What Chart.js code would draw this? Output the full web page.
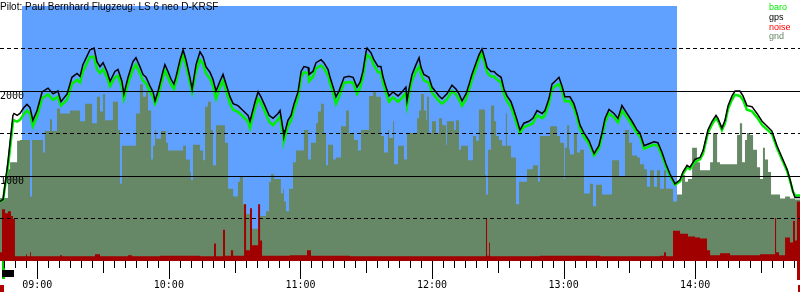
<!DOCTYPE html>
<html>
<head>
<meta charset="utf-8">
<script src="https://cdn.jsdelivr.net/npm/chart.js@4/dist/chart.umd.min.js"></script>
<style>
html,body{margin:0;padding:0;background:#fff;}
canvas{display:block;}
</style>
</head>
<body>
<canvas id="c" width="800" height="300"></canvas>
<script>
// ---- data (time in minutes after midnight, altitude in metres) ----
const titleText = 'Pilot: Paul Bernhard Flugzeug: LS 6 neo D-KRSF';
const seriesNames = ['baro', 'gps', 'noise', 'gnd'];
const axisRange = [523.0, 887.8];
const taskWindow = [533.0, 831.7];
const solidLevels = [1000, 2000];
const dashedLevels = [500, 1500, 2500];
const takeoffTime = 523.9;
const towRelease = 529.4;
const engineLeft = [523.0, 524.8];
const engineRight = [886.4, 887.8];

const trackTime = [
523.0,524.4,526.6,528.9,529.4,530.8,532.1,533.9,535.3,536.7,
538.0,539.9,542.2,544.9,547.2,549.4,550.8,553.6,555.8,558.1,
559.5,560.8,564.0,565.9,567.2,568.6,570.0,571.8,573.2,575.4,
576.8,578.6,579.5,581.4,583.6,585.0,586.8,588.2,589.6,591.4,
592.8,593.7,595.1,597.3,598.2,599.6,601.0,602.3,603.3,605.1,
606.5,607.8,609.6,610.6,612.4,614.2,615.6,616.9,618.8,620.1,
621.5,623.3,624.7,626.1,627.9,629.3,631.5,633.8,636.1,637.0,
639.3,640.7,642.0,643.8,645.7,647.5,649.8,650.7,652.1,652.5,
654.3,655.7,657.1,658.9,660.3,661.6,663.5,663.9,665.7,667.1,
669.4,670.7,672.6,673.5,674.9,676.2,677.6,679.9,682.1,684.0,
685.8,687.2,688.5,689.9,690.4,692.2,693.5,695.4,696.7,697.7,
699.0,700.4,702.2,704.5,706.3,708.1,708.6,709.5,710.9,712.7,
714.1,715.0,716.3,718.6,720.0,721.8,723.2,724.6,726.8,729.1,
730.9,732.3,733.7,735.5,736.9,738.2,740.1,741.4,742.8,744.2,
745.1,746.9,748.3,749.6,751.5,752.8,754.2,756.0,757.4,758.8,
760.1,761.9,764.2,766.0,767.9,770.2,771.5,773.3,774.7,776.1,
777.9,779.3,780.6,782.9,784.7,786.1,787.5,789.3,791.6,793.9,
796.1,797.5,798.9,800.7,803.0,804.8,806.6,808.9,811.2,813.5,
814.8,816.7,818.9,821.2,823.0,824.9,826.7,828.5,830.8,833.1,
834.4,836.3,837.6,839.9,842.2,843.6,845.8,847.7,849.5,850.4,
852.2,853.6,855.0,856.8,858.2,860.4,861.8,863.6,865.9,868.2,
870.5,872.8,875.0,877.3,879.6,881.9,883.2,884.6,885.5,887.8];

const gps = [
701,724,1161,1713,1736,1713,1736,1805,1842,1805,
1655,1770,1989,2034,1966,2000,1874,1966,2161,2207,
2172,2310,2483,2506,2345,2287,2333,2230,2115,2230,
2253,2115,1966,2161,2345,2391,2287,2195,2161,2057,
1989,1885,2000,2230,2310,2230,2138,2080,2172,2368,
2483,2368,2161,2023,2310,2460,2402,2287,2218,2138,
2000,2115,2195,2080,1931,1851,1828,1770,1713,1644,
1874,1989,1931,1828,1713,1678,1736,1770,1540,1471,
1655,1713,1851,1989,2230,2287,2276,2195,2230,2333,
2368,2333,2253,2161,2046,1931,2000,2161,2172,2161,
2046,2103,2230,2460,2506,2448,2368,2287,2287,2161,
2046,1942,1989,1942,1989,2046,1885,2023,2195,2310,
2391,2276,2195,2161,2046,1989,1942,1908,1966,2069,
2023,1966,1885,1966,2080,2195,2333,2425,2494,2368,
2276,2230,2230,2195,2161,2023,1942,1874,1770,1655,
1540,1621,1644,1678,1770,1736,1770,1908,2080,2115,
2161,2057,1931,1931,1851,1736,1598,1506,1414,1264,
1356,1506,1678,1782,1736,1678,1828,1736,1644,1540,
1506,1356,1379,1402,1391,1276,1138,1023,908,954,
1046,1126,1103,1195,1218,1299,1540,1644,1713,1678,
1563,1655,1828,1942,2000,2000,1942,1828,1816,1736,
1644,1586,1529,1356,1218,1080,966,816,747,747];

const baro = [
701,718,1100,1630,1655,1640,1660,1730,1770,1735,
1586,1700,1915,1960,1895,1930,1828,1895,2085,2130,
2100,2230,2400,2402,2260,2210,2255,2160,2057,2160,
2180,2050,1908,2090,2253,2310,2210,2120,2090,1990,
1930,1851,1940,2160,2240,2160,2075,2023,2110,2300,
2425,2310,2100,1989,2230,2368,2320,2210,2140,2060,
1908,2040,2120,2000,1851,1780,1755,1700,1640,1563,
1800,1910,1860,1760,1640,1598,1665,1700,1480,1414,
1590,1650,1785,1920,2160,2220,2210,2115,2165,2265,
2300,2265,2185,2095,1980,1851,1930,2095,2105,2095,
1966,2035,2160,2390,2425,2385,2300,2220,2220,2095,
1980,1874,1925,1874,1920,1980,1828,1955,2120,2230,
2287,2200,2125,2095,1980,1925,1880,1851,1900,2000,
1960,1900,1828,1900,2015,2130,2270,2368,2448,2310,
2215,2170,2170,2135,2100,1965,1880,1815,1710,1600,
1506,1575,1598,1621,1715,1680,1715,1850,2020,2057,
2080,2000,1880,1880,1800,1690,1550,1460,1380,1241,
1320,1460,1630,1735,1690,1630,1770,1690,1600,1500,
1470,1320,1345,1368,1356,1241,1110,1000,897,935,
1023,1100,1080,1165,1195,1265,1506,1610,1678,1650,
1540,1620,1790,1900,1955,1942,1895,1780,1760,1690,
1600,1545,1495,1330,1195,1060,950,816,770,770];

const gndTime = [
523.0,526.6,527.6,530.8,532.1,536.7,537.6,542.6,543.5,545.8,
546.7,549.0,550.4,554.9,559.5,561.8,565.0,567.2,568.6,570.0,
570.9,574.5,576.8,577.7,578.6,585.0,586.8,588.2,589.6,590.5,
591.9,592.8,593.7,594.1,596.4,598.7,599.6,606.5,607.8,609.6,
610.1,611.0,614.2,615.6,616.5,617.8,619.2,620.1,621.5,625.6,
627.0,629.3,631.5,632.4,633.8,635.2,637.0,641.6,644.3,645.7,
646.6,647.9,651.1,652.1,652.5,653.4,654.8,656.6,658.0,661.6,
663.5,664.8,667.1,668.0,669.4,670.7,671.7,672.6,674.9,676.2,
678.5,680.8,682.1,684.4,686.2,687.6,691.3,693.1,694.5,696.7,
698.1,699.9,700.4,702.2,702.7,704.5,707.2,708.6,713.2,714.1,
715.0,716.3,717.3,717.7,718.6,720.0,721.8,723.2,724.6,726.4,
726.8,730.0,730.9,732.3,733.2,736.4,738.7,740.1,741.4,744.2,
744.6,745.5,746.9,748.3,749.2,750.5,751.9,753.7,754.2,756.0,
758.3,759.7,763.3,766.0,768.3,769.2,773.8,777.0,778.4,780.2,
780.6,781.6,782.5,782.9,784.7,786.1,787.5,789.3,792.0,793.4,
794.8,797.5,802.1,805.3,808.0,809.8,811.2,813.5,814.8,816.7,
818.0,819.4,821.2,822.6,824.0,825.8,826.7,829.9,831.7,834.0,
835.4,836.7,838.6,840.8,842.2,846.8,848.1,850.0,851.3,859.1,
860.4,861.4,862.7,863.6,865.0,866.4,868.2,869.6,870.9,871.8,
873.2,874.6,878.7,881.0,883.2,885.5,887.8];

const gnd = [
740,1080,1161,1414,1425,759,1425,1276,1529,1667,
1529,1793,1736,1770,1644,1851,1621,1931,1759,1966,
1655,1874,1540,908,1356,1736,2080,1931,2000,1770,
1195,1356,1540,1437,1529,1391,1299,1356,1195,1046,
954,1368,1299,1184,1816,1874,1540,1126,1598,1391,
851,759,931,989,667,552,379,529,586,931,
1023,966,793,851,701,586,851,1161,1299,1540,
1195,1391,1621,1759,1851,1506,1126,1368,1195,1218,
1586,1770,1506,1425,1299,1540,1942,1989,1931,1471,
1276,1540,1448,1644,1138,1356,1195,1506,1678,1770,
1966,1770,1655,1931,1506,1644,1506,1678,1598,1368,
1644,1540,1655,1310,1356,1184,1471,1414,1782,1011,
782,1310,1828,1644,1471,1425,1356,1736,1356,1218,
667,931,1080,1126,931,1471,1586,1471,1391,966,
1333,1598,1310,1253,1506,1276,1310,793,908,644,
897,782,1184,989,1540,1391,1241,1218,1138,1080,
874,1069,874,1069,851,1069,851,701,782,1011,
931,966,1333,1161,1069,1161,1506,1161,1138,1483,
1621,1161,1425,1506,1483,1310,1103,966,1333,1195,
1046,782,736,759,736,724,724];

const noiseTime = [
523.0,523.9,525.3,526.6,528.0,528.9,529.8,534.9,535.3,536.7,
537.1,550.4,551.3,566.3,568.6,581.4,583.2,596.0,614.2,620.6,
621.5,624.7,625.6,628.3,629.3,634.3,635.2,637.0,637.9,640.7,
641.6,642.5,655.2,663.0,664.8,682.6,705.4,744.6,745.1,746.0,
746.4,769.2,796.6,824.0,825.8,826.7,829.9,833.1,836.7,839.9,
842.2,845.4,846.8,851.3,855.9,869.6,876.4,876.9,878.2,881.0,
883.2,884.6,885.5,886.4,887.8];

const noise = [
103,609,563,586,529,494,57,80,57,103,
57,69,57,80,57,69,57,63,57,207,
57,368,63,126,63,667,126,621,184,667,
241,63,69,126,63,57,57,494,63,218,
57,63,57,63,103,57,356,322,287,276,
264,126,69,92,69,80,506,103,69,276,
218,471,241,700,700];

// ---- helpers ----
const pts = (xs, ys) => xs.map((x, i) => ({ x: x, y: ys[i] }));
const hhmm = v => {
  const h = Math.floor(v / 60), m = Math.round(v % 60);
  return String(h).padStart(2, '0') + ':' + String(m).padStart(2, '0');
};
const MONO = '"DejaVu Sans Mono", "Liberation Mono", monospace';
const SANS = '"Liberation Sans", Arial, sans-serif';
const C_BLUE = 'rgb(96,160,255)';
const C_GND = '#668866';
const C_NOISE = '#a00000';
const C_BARO = '#00ee00';

const decor = {
  id: 'decor',
  beforeDatasetsDraw(chart) {
    const { ctx, chartArea: a, scales: { x } } = chart;
    const x0 = Math.round(x.getPixelForValue(taskWindow[0]));
    const x1 = Math.round(x.getPixelForValue(taskWindow[1]));
    ctx.save();
    ctx.fillStyle = C_BLUE;
    ctx.fillRect(x0, a.top, x1 - x0, a.bottom - a.top);
    ctx.restore();
  },
  afterDraw(chart) {
    const { ctx, chartArea: a, scales: { x } } = chart;
    const b = a.bottom;
    ctx.save();
    const px = v => Math.round(x.getPixelForValue(v));
    // event markers under the axis
    ctx.fillStyle = '#00cc00';
    ctx.fillRect(px(takeoffTime), b, 3, 18);
    ctx.fillStyle = '#000';
    ctx.fillRect(px(takeoffTime), b + 9, px(towRelease) - px(takeoffTime), 7);
    ctx.fillStyle = '#b00000';
    ctx.fillRect(px(engineLeft[0]), b + 24, px(engineLeft[1]) - px(engineLeft[0]), 7);
    ctx.fillRect(px(engineRight[0]), b, px(engineRight[1]) - px(engineRight[0]), 19);
    ctx.fillRect(px(engineRight[0]) + 1, b + 24, px(engineRight[1]) - px(engineRight[0]) - 1, 7);
    // tick marks of three lengths
    ctx.strokeStyle = '#000';
    ctx.lineWidth = 1;
    ctx.beginPath();
    x.ticks.forEach(t => {
      const v = t.value;
      const len = v % 60 === 0 ? 18 : (v % 30 === 0 ? 12 : 7);
      const p = Math.round(x.getPixelForValue(v)) + 0.5;
      ctx.moveTo(p, b);
      ctx.lineTo(p, b + len);
    });
    ctx.stroke();
    // title
    ctx.fillStyle = '#000';
    ctx.font = '10px ' + SANS;
    ctx.textBaseline = 'alphabetic';
    ctx.textAlign = 'left';
    ctx.fillText(titleText, 0, 10);
    // series names
    const cols = [C_BARO, '#000', '#ff0000', C_GND];
    const base = [10, 20, 30, 39];
    ctx.font = '9px ' + SANS;
    seriesNames.forEach((n, i) => {
      ctx.fillStyle = cols[i];
      ctx.fillText(n, 769, base[i]);
    });
    ctx.restore();
  }
};

new Chart(document.getElementById('c'), {
  type: 'line',
  data: {
    datasets: [
      { label: 'gps', data: pts(trackTime, gps), yAxisID: 'y', borderColor: '#000', borderWidth: 1.5,
        pointRadius: 0, fill: false, tension: 0, order: 0 },
      { label: 'baro', data: pts(trackTime, baro), yAxisID: 'y', borderColor: C_BARO, borderWidth: 2.5,
        pointRadius: 0, fill: false, tension: 0, order: 1 },
      { label: 'noise', data: pts(noiseTime, noise), yAxisID: 'y', borderWidth: 0, borderColor: 'rgba(0,0,0,0)',
        backgroundColor: C_NOISE, fill: 'origin', stepped: true, pointRadius: 0, order: 2 },
      { label: 'gnd', data: pts(gndTime, gnd), yAxisID: 'y', borderWidth: 0, borderColor: 'rgba(0,0,0,0)',
        backgroundColor: C_GND, fill: 'origin', stepped: true, pointRadius: 0, order: 3 }
    ]
  },
  options: {
    responsive: false,
    animation: false,
    devicePixelRatio: 1,
    layout: { padding: 0, autoPadding: false },
    events: [],
    plugins: { legend: { display: false }, tooltip: { enabled: false }, title: { display: false } },
    scales: {
      x: {
        type: 'linear', position: 'bottom', min: axisRange[0], max: axisRange[1],
        afterBuildTicks: s => { const t = []; for (let v = 525; v <= 885; v += 5) t.push({ value: v }); s.ticks = t; },
        afterFit: s => { s.height = 39; s.paddingLeft = 0; s.paddingRight = 0; },
        grid: { display: true, drawOnChartArea: false, drawTicks: true, tickLength: 18, tickColor: 'rgba(0,0,0,0)' },
        border: { display: false },
        ticks: { autoSkip: false, maxRotation: 0, minRotation: 0, padding: 0, color: '#000',
          font: { family: MONO, size: 10 }, callback: v => (v % 60 === 0 ? hhmm(v) : '') }
      },
      y: {
        type: 'linear', position: 'left', min: 0, max: 3000,
        afterBuildTicks: s => { s.ticks = solidLevels.map(v => ({ value: v })); },
        afterFit: s => { s.width = 0; },
        grid: { color: '#000', lineWidth: 1, drawTicks: false, z: 1 },
        border: { display: false },
        ticks: { mirror: true, padding: 0, labelOffset: 5, color: '#000', z: 1,
          font: { family: MONO, size: 10 }, callback: v => String(v) }
      },
      y2: {
        type: 'linear', position: 'left', min: 0, max: 3000,
        afterBuildTicks: s => { s.ticks = dashedLevels.map(v => ({ value: v })); },
        afterFit: s => { s.width = 0; },
        grid: { color: '#000', lineWidth: 1, drawTicks: false, z: 1 },
        border: { display: false, dash: [4, 3] },
        ticks: { display: false }
      }
    }
  },
  plugins: [decor]
});
</script>
</body>
</html>
